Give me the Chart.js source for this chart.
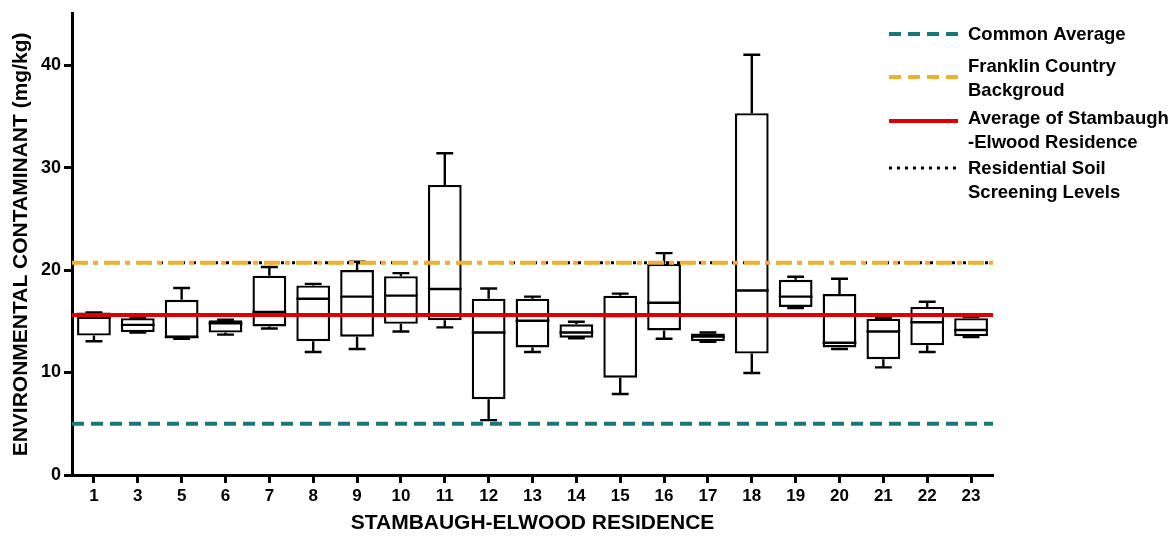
<!DOCTYPE html>
<html>
<head>
<meta charset="utf-8">
<script src="https://cdn.jsdelivr.net/npm/chart.js@4.4.1/dist/chart.umd.min.js"></script>
<style>
  html, body { margin: 0; padding: 0; background: #fff; }
  #wrap { width: 1175px; height: 536px; position: relative; }
</style>
</head>
<body>
<div id="wrap"><canvas id="myChart"></canvas></div>
<script>
// residences on the x axis
const residences = ['1', '3', '5', '6', '7', '8', '9', '10', '11', '12', '13', '14', '15', '16', '17', '18', '19', '20', '21', '22', '23'];

// box plot values (mg/kg)
const minValues = [13.05, 13.9, 13.3, 13.7, 14.3, 12.0, 12.3, 14.0, 14.4, 5.35, 12.0, 13.35, 7.9, 13.3, 13.0, 9.95, 16.3, 12.3, 10.5, 12.0, 13.45];
const q1Values = [13.6, 13.95, 13.4, 13.9, 14.5, 13.05, 13.5, 14.75, 15.1, 7.4, 12.45, 13.4, 9.5, 14.1, 13.05, 11.85, 16.4, 12.45, 11.3, 12.65, 13.55];
const medianValues = [15.35, 14.65, 13.45, 14.8, 15.9, 17.2, 17.4, 17.5, 18.15, 13.9, 15.05, 13.9, 15.5, 16.8, 13.5, 18.0, 17.4, 12.9, 14.0, 14.9, 14.15];
const q3Values = [15.85, 15.3, 17.1, 15.1, 19.45, 18.5, 20.0, 19.4, 28.3, 17.2, 17.2, 14.7, 17.5, 20.6, 13.8, 35.3, 19.05, 17.65, 15.25, 16.4, 15.3];
const maxValues = [15.85, 15.35, 18.25, 15.15, 20.3, 18.65, 20.8, 19.7, 31.4, 18.2, 17.4, 14.95, 17.7, 21.65, 13.9, 41.0, 19.35, 19.15, 15.35, 16.9, 15.4];

// reference levels
const commonAverage = 5;
const franklinBackground = 20.7;
const residenceAverage = 15.6;
const screeningLevel = 20.7;

const yTicks = [0, 10, 20, 30, 40];

const FONT = '"Liberation Sans", Arial, sans-serif';

const refLines = [
  { value: screeningLevel, color: '#000000', width: 3, dash: [3, 8] },
  { value: franklinBackground, color: '#f0b02c', width: 4, dash: [16, 5, 5, 6] },
  { value: residenceAverage, color: '#e00000', width: 4, dash: [] },
  { value: commonAverage, color: '#16787a', width: 4, dash: [12, 7] }
];

const legendItems = [
  { lines: ['Common Average'], textY: 35, lineY: 34, color: '#16787a', width: 4, dash: [12, 7] },
  { lines: ['Franklin Country', 'Backgroud'], textY: 67, lineY: 77, color: '#f0b02c', width: 4, dash: [12, 7] },
  { lines: ['Average of Stambaugh', '-Elwood Residence'], textY: 119, lineY: 121, color: '#e00000', width: 4, dash: [] },
  { lines: ['Residential Soil', 'Screening Levels'], textY: 169, lineY: 168, color: '#000000', width: 3, dash: [3, 5] }
];

const boxPlugin = {
  id: 'boxParts',
  afterDatasetsDraw(chart) {
    const ctx = chart.ctx;
    const y = chart.scales.y;
    const meta = chart.getDatasetMeta(0);
    ctx.save();
    ctx.strokeStyle = '#000';
    ctx.lineWidth = 2.4;
    meta.data.forEach((bar, i) => {
      const half = bar.width / 2;
      const cap = bar.width / 4;
      const yMin = y.getPixelForValue(minValues[i]);
      const yMax = y.getPixelForValue(maxValues[i]);
      const yQ1 = y.getPixelForValue(q1Values[i]);
      const yQ3 = y.getPixelForValue(q3Values[i]);
      const yMed = y.getPixelForValue(medianValues[i]);
      ctx.beginPath();
      // whiskers
      ctx.moveTo(bar.x, yQ3); ctx.lineTo(bar.x, yMax);
      ctx.moveTo(bar.x - cap, yMax); ctx.lineTo(bar.x + cap, yMax);
      ctx.moveTo(bar.x, yQ1); ctx.lineTo(bar.x, yMin);
      ctx.moveTo(bar.x - cap, yMin); ctx.lineTo(bar.x + cap, yMin);
      // median
      ctx.moveTo(bar.x - half, yMed); ctx.lineTo(bar.x + half, yMed);
      ctx.stroke();
    });

    // reference lines across the plot
    const area = chart.chartArea;
    refLines.forEach(r => {
      const py = y.getPixelForValue(r.value);
      ctx.beginPath();
      ctx.setLineDash(r.dash);
      ctx.strokeStyle = r.color;
      ctx.lineWidth = r.width;
      ctx.moveTo(area.left, py);
      ctx.lineTo(area.right, py);
      ctx.stroke();
    });
    ctx.restore();
  },
  afterDraw(chart) {
    const ctx = chart.ctx;
    ctx.save();
    ctx.font = 'bold 18.5px ' + FONT;
    ctx.textBaseline = 'middle';
    ctx.textAlign = 'left';
    legendItems.forEach(item => {
      ctx.beginPath();
      ctx.setLineDash(item.dash);
      ctx.strokeStyle = item.color;
      ctx.lineWidth = item.width;
      ctx.moveTo(889, item.lineY);
      ctx.lineTo(958, item.lineY);
      ctx.stroke();
      ctx.fillStyle = '#000';
      item.lines.forEach((t, k) => {
        ctx.fillText(t, 968, item.textY + k * 24);
      });
    });
    ctx.restore();
  }
};

const ctx = document.getElementById('myChart').getContext('2d');

const chart = new Chart(ctx, {
  type: 'bar',
  data: {
    labels: residences,
    datasets: [{
      label: 'Box',
      data: q1Values.map((v, i) => [v, q3Values[i]]),
      backgroundColor: '#ffffff',
      borderColor: '#000000',
      borderWidth: 2.4,
      borderSkipped: false,
      barPercentage: 0.77,
      categoryPercentage: 1
    }]
  },
  options: {
    responsive: true,
    maintainAspectRatio: false,
    animation: false,
    layout: { padding: { top: 13, right: 182, left: 0, bottom: 0 } },
    plugins: {
      legend: { display: false },
      tooltip: { enabled: false }
    },
    scales: {
      x: {
        offset: true,
        grid: { drawOnChartArea: false, drawTicks: true, tickLength: 8, tickWidth: 3, color: '#000', offset: false },
        border: { display: true, width: 3, color: '#000' },
        ticks: { color: '#000', padding: 3, font: { family: FONT, size: 17, weight: 'bold' }, maxRotation: 0, autoSkip: false },
        title: {
          display: true,
          text: 'STAMBAUGH-ELWOOD RESIDENCE',
          color: '#000',
          font: { family: FONT, size: 21, weight: 'bold', lineHeight: 1.2 },
          padding: { top: 0, bottom: 0 }
        },
        afterFit: axis => { axis.height = 61; }
      },
      y: {
        min: 0,
        max: 45,
        grid: { drawOnChartArea: false, drawTicks: true, tickLength: 8, tickWidth: 3, color: '#000' },
        border: { display: true, width: 3, color: '#000' },
        ticks: { color: '#000', padding: 3, stepSize: 10, font: { family: FONT, size: 18, weight: 'bold' } },
        afterBuildTicks: axis => { axis.ticks = yTicks.map(v => ({ value: v })); },
        title: {
          display: true,
          text: 'ENVIRONMENTAL CONTAMINANT (mg/kg)',
          color: '#000',
          font: { family: FONT, size: 21, weight: 'bold', lineHeight: 1.2 },
          padding: { top: 9, bottom: 0 }
        },
        afterFit: axis => { axis.width = 72; }
      }
    }
  },
  plugins: [boxPlugin]
});
</script>
</body>
</html>
